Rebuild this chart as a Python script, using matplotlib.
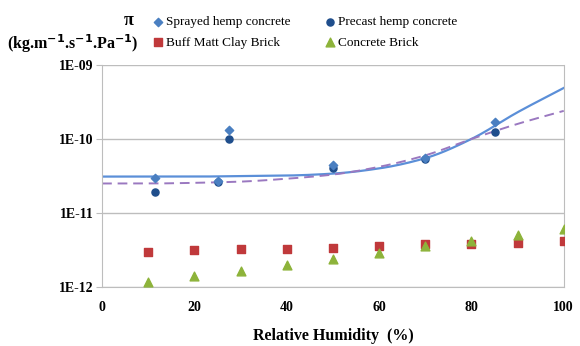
"""
Water vapour permeability vs relative humidity
hemp concrete (sprayed / precast) compared with clay and concrete bricks
"""

import numpy as np
import matplotlib.pyplot as plt

plt.rcParams['font.family'] = ['Liberation Serif', 'DejaVu Serif']

# hemp concrete measurements
sprayed_rh = [11.5, 25, 27.5, 50, 70, 85]
sprayed_perm = [2.95e-11, 2.7e-11, 1.34e-10, 4.4e-11, 5.6e-11, 1.7e-10]
precast_rh = [11.5, 25, 27.5, 50, 70, 85]
precast_perm = [1.9e-11, 2.65e-11, 1.0e-10, 4.1e-11, 5.4e-11, 1.26e-10]

# fitted curves
fit_rh = [0, 10, 20, 30, 40, 50, 60, 70, 80, 90, 100]
fit_sprayed = [3.1e-11, 3.1e-11, 3.1e-11, 3.15e-11, 3.2e-11, 3.4e-11,
               4.0e-11, 5.5e-11, 1.0e-10, 2.3e-10, 4.9e-10]
fit_precast = [2.5e-11, 2.5e-11, 2.55e-11, 2.65e-11, 2.9e-11, 3.3e-11,
               4.2e-11, 6.0e-11, 1.0e-10, 1.6e-10, 2.4e-10]

# bricks
brick_rh = [10, 20, 30, 40, 50, 60, 70, 80, 90, 100]
clay_perm = [3.0e-12, 3.15e-12, 3.25e-12, 3.3e-12, 3.4e-12, 3.6e-12,
             3.8e-12, 3.8e-12, 3.9e-12, 4.15e-12]
concrete_perm = [1.15e-12, 1.38e-12, 1.65e-12, 1.95e-12, 2.4e-12, 2.9e-12,
                 3.55e-12, 4.2e-12, 5.0e-12, 6.1e-12]

y_ticks = [1e-12, 1e-11, 1e-10, 1e-9]
y_labels = ['1E-12', '1E-11', '1E-10', '1E-09']
x_ticks = [0, 20, 40, 60, 80, 100]


def smooth(x, y, n=300):
    # monotone cubic (Fritsch-Carlson) through the points, in log space
    x = np.asarray(x, float)
    v = np.log10(y)
    h = np.diff(x)
    d = np.diff(v) / h
    m = np.zeros_like(v)
    m[0], m[-1] = d[0], d[-1]
    for i in range(1, len(v) - 1):
        if d[i - 1] * d[i] > 0:
            w1 = 2 * h[i] + h[i - 1]
            w2 = h[i] + 2 * h[i - 1]
            m[i] = (w1 + w2) / (w1 / d[i - 1] + w2 / d[i])
    xs = np.linspace(x[0], x[-1], n)
    k = np.clip(np.searchsorted(x, xs) - 1, 0, len(x) - 2)
    t = (xs - x[k]) / h[k]
    h00 = 2 * t**3 - 3 * t**2 + 1
    h10 = t**3 - 2 * t**2 + t
    h01 = -2 * t**3 + 3 * t**2
    h11 = t**3 - t**2
    ys = h00 * v[k] + h10 * h[k] * m[k] + h01 * v[k + 1] + h11 * h[k] * m[k + 1]
    return xs, 10 ** ys


fig = plt.figure(figsize=(5.8, 3.46), dpi=100)
ax = fig.add_axes([0.176, 0.171, 0.796, 0.641])

xs, ys = smooth(fit_rh, fit_sprayed)
ax.plot(xs, ys, color='#5b8fd8', linewidth=1.6, zorder=2)
xs, ys = smooth(fit_rh, fit_precast)
ax.plot(xs, ys, color='#9a78c0', linewidth=1.4, linestyle=(0, (5, 3)), zorder=2)

h_spr = ax.scatter(sprayed_rh, sprayed_perm, marker='D', s=18,
                   color='#4a7fc1', zorder=4, label='Sprayed hemp concrete')
h_pre = ax.scatter(precast_rh, precast_perm, marker='o', s=26,
                   color='#1f4e8c', zorder=3, label='Precast hemp concrete')
h_clay = ax.scatter(brick_rh, clay_perm, marker='s', s=34,
                    color='#c0393b', zorder=3, label='Buff Matt Clay Brick')
h_conc = ax.scatter(brick_rh, concrete_perm, marker='^', s=40,
                    color='#8db33a', zorder=4, label='Concrete Brick')

ax.set_yscale('log')
ax.set_ylim(1e-12, 1e-9)
ax.set_xlim(0, 100)
ax.set_yticks(y_ticks)
ax.set_yticklabels(y_labels)
ax.yaxis.set_minor_locator(plt.NullLocator())
ax.set_xticks(x_ticks)
ax.grid(axis='y', color='#bdbdbd', linewidth=1.0)
ax.set_axisbelow(True)

for side in ['left', 'right', 'bottom']:
    ax.spines[side].set_color('#bdbdbd')
ax.spines['top'].set_visible(False)
ax.tick_params(axis='y', length=4, color='#bdbdbd', labelsize=10, pad=2)
ax.tick_params(axis='x', length=0, labelsize=10, pad=10)
for lab in ax.get_xticklabels() + ax.get_yticklabels():
    lab.set_fontweight('bold')

ax.set_xlabel('Relative Humidity  (%)', fontsize=11.5, fontweight='bold', labelpad=10)

fig.text(0.012, 0.875, r'(kg.m$^{\mathbf{-1}}$.s$^{\mathbf{-1}}$.Pa$^{\mathbf{-1}}$)',
         fontsize=11.5, fontweight='bold', va='center')
fig.text(0.214, 0.94, 'π', fontsize=13, fontweight='bold', va='center')

fig.legend(handles=[h_spr, h_clay, h_pre, h_conc], ncol=2,
           loc='upper left', bbox_to_anchor=(0.248, 0.98), frameon=False,
           fontsize=9.5, handletextpad=0.2, columnspacing=2.6,
           labelspacing=0.6, handlelength=0.8, borderaxespad=0.3)

fig.savefig('out.png', dpi=100)
